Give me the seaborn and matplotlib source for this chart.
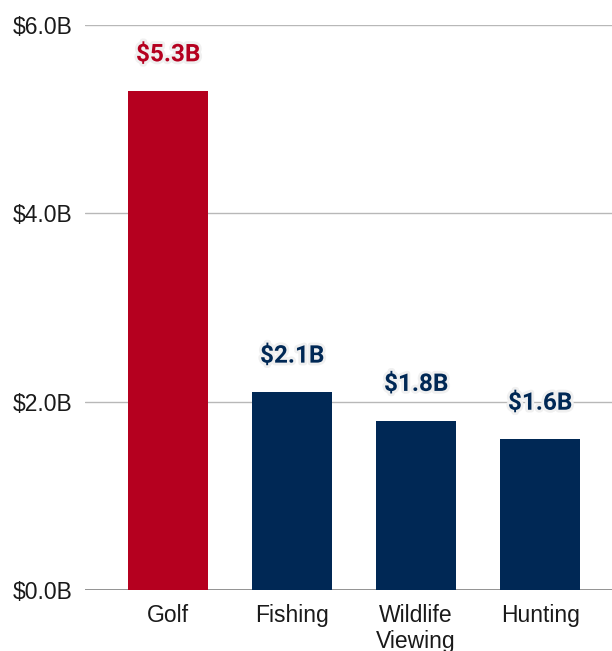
import matplotlib
matplotlib.use("Agg")
import matplotlib.pyplot as plt
import matplotlib.patheffects as pe
import seaborn as sns
import pandas as pd

# Annual spending by activity, in billions of dollars
activities = ["Golf", "Fishing", "Wildlife\nViewing", "Hunting"]
spending = [5.3, 2.1, 1.8, 1.6]
value_labels = ["$5.3B", "$2.1B", "$1.8B", "$1.6B"]
y_ticks = [0, 2, 4, 6]
y_tick_labels = ["$0.0B", "$2.0B", "$4.0B", "$6.0B"]

RED = "#B5001F"
NAVY = "#002855"
bar_colors = [RED, NAVY, NAVY, NAVY]

df = pd.DataFrame({"activity": activities, "spending": spending})

sns.set_theme(style="white")
plt.rcParams["font.family"] = ["Liberation Sans", "DejaVu Sans"]

fig = plt.figure(figsize=(6.12, 6.51), dpi=100)
ax = fig.add_axes([85 / 612, 1 - 590 / 651, 1 - 85 / 612, (590 - 25) / 651])

sns.barplot(data=df, x="activity", y="spending", hue="activity",
            palette=bar_colors, width=0.645, legend=False, ax=ax,
            saturation=1, edgecolor="none")

ax.set_ylim(0, 6)
ax.set_xlim(-0.67, 3.58)
ax.set_yticks(y_ticks)
ax.set_yticklabels(y_tick_labels, fontsize=16.5, color="#1a1a1a")
ax.tick_params(axis="x", labelsize=16.5, colors="#1a1a1a", length=0, pad=10)
ax.tick_params(axis="y", length=0, pad=9)
ax.set_xlabel("")
ax.set_ylabel("")

for y in y_ticks:
    ax.axhline(y, color="#8a8a8a" if y == 0 else "#b8b8b8",
               lw=1.3 if y == 0 else 1.0, zorder=0)

for s in ax.spines.values():
    s.set_visible(False)

for i, (v, lab, c) in enumerate(zip(spending, value_labels, bar_colors)):
    ax.annotate(lab, xy=(i, v), xytext=(0, 26), textcoords="offset points",
                ha="center", va="center", fontsize=17.5, fontweight="bold",
                family="Roboto", color=c,
                path_effects=[pe.withStroke(linewidth=4, foreground="#f0f0f0")])

fig.savefig("out.png", dpi=100)
